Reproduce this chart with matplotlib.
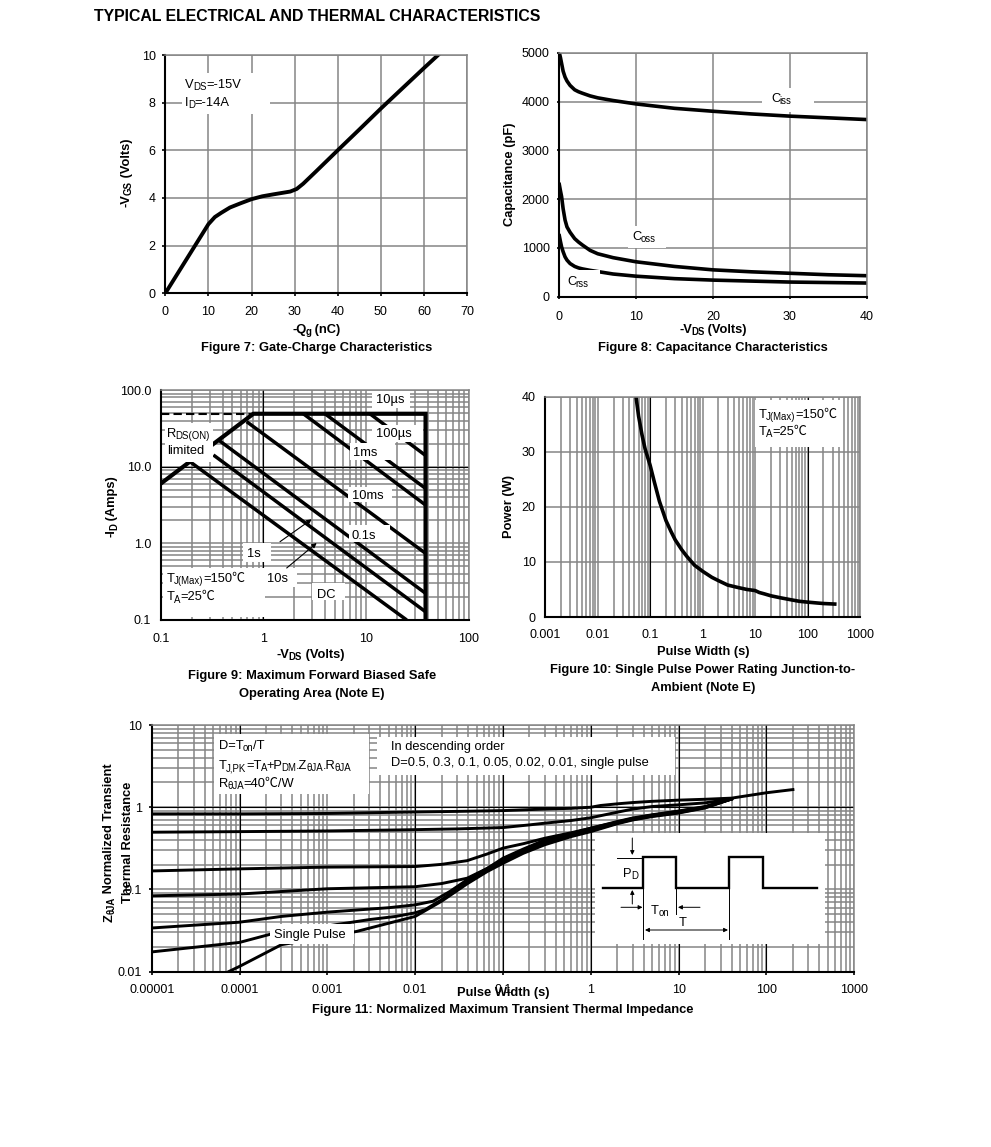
import matplotlib
matplotlib.use("Agg")
import matplotlib.pyplot as plt
from matplotlib.patches import Rectangle
from matplotlib.ticker import LogLocator, NullFormatter

plt.rcParams["font.family"] = ["Liberation Sans", "Noto Sans CJK SC", "DejaVu Sans"]

W, H = 991, 1147
GRAY = "#858585"

# figure 7
qg = [0, 5, 10, 11.5, 13, 15, 17.5, 20, 22.5, 25, 29, 30.5, 32, 35, 40, 45, 50, 55, 60, 63.3]
vgs = [0, 1.45, 2.9, 3.2, 3.38, 3.6, 3.78, 3.95, 4.07, 4.15, 4.27, 4.38, 4.6, 5.12, 6.0, 6.87, 7.75, 8.6, 9.45, 10.0]

# figure 8
vds = [0, 0.15, 0.3, 0.5, 0.75, 1, 1.4, 2, 2.5, 3, 4, 5, 7, 10, 15, 20, 25, 30, 35, 40]
ciss = [5000, 4900, 4780, 4620, 4500, 4420, 4330, 4240, 4200, 4170, 4115, 4075, 4020, 3950, 3860, 3800, 3745, 3700, 3665, 3630]
coss = [2300, 2170, 2050, 1800, 1570, 1430, 1320, 1190, 1120, 1060, 950, 880, 800, 715, 620, 550, 510, 480, 450, 430]
crss = [1250, 1130, 1020, 920, 816, 750, 680, 620, 590, 570, 540, 515, 465, 420, 370, 340, 320, 300, 290, 280]

# figure 9, straight limit lines as (x0, y0, x1, y1)
soa_envelope_x = [0.1, 0.8, 38, 38]
soa_envelope_y = [6.0, 49, 49, 0.1]
soa_dash_x = [0.1, 0.8]
soa_dash_y = [49, 49]
soa_lines = [
    (10.9, 49, 38, 14),
    (3.98, 49, 38, 5.2),
    (2.45, 49, 38, 3.16),
    (0.688, 38.6, 38, 0.74),
    (0.365, 22.3, 38, 0.223),
    (0.326, 14.2, 38, 0.128),
    (0.193, 11.6, 24.9, 0.1),
]

# figure 10
pulse_w = [0.0536, 0.06, 0.07, 0.08, 0.1, 0.12, 0.15, 0.2, 0.25, 0.3, 0.4, 0.5, 0.7, 1, 1.5, 2, 3, 5, 7, 10,
           12, 15, 20, 30, 50, 70, 100, 150, 200, 330]
power = [40, 36.5, 33, 30.5, 27.5, 24.5, 21, 17.5, 15.5, 14, 12.2, 11, 9.4, 8.3, 7.2, 6.6, 5.8, 5.3, 5, 4.8,
         4.45, 4.2, 3.85, 3.5, 3.1, 2.85, 2.7, 2.55, 2.45, 2.35]

# figure 11
t_d05 = [1e-5, 1e-4, 1e-3, 0.0068, 0.03, 0.1, 0.3, 0.6, 1, 1.29, 2, 3, 5, 10, 20, 40, 100, 200]
z_d05 = [0.83, 0.83, 0.84, 0.87, 0.89, 0.91, 0.95, 0.97, 1.0, 1.05, 1.1, 1.14, 1.18, 1.22, 1.25, 1.29, 1.5, 1.64]
t_d03 = [1e-5, 1e-4, 1e-3, 0.0068, 0.03, 0.1, 0.2, 0.3, 0.6, 1, 2, 3, 5, 10, 20, 40]
z_d03 = [0.497, 0.505, 0.515, 0.53, 0.545, 0.566, 0.61, 0.64, 0.69, 0.745, 0.87, 0.95, 1.02, 1.07, 1.13, 1.26]
t_d01 = [1e-5, 1e-4, 1e-3, 0.005, 0.01, 0.02, 0.039, 0.066, 0.1, 0.17, 0.3, 0.6, 1, 2, 3, 5, 10, 20, 40]
z_d01 = [0.168, 0.178, 0.187, 0.189, 0.19, 0.202, 0.224, 0.27, 0.318, 0.36, 0.42, 0.49, 0.556, 0.67, 0.74, 0.81, 0.9, 1.02, 1.26]
t_d005 = [1e-5, 1e-4, 1e-3, 0.01, 0.02, 0.039, 0.066, 0.1, 0.17, 0.3, 0.6, 1, 2, 3, 5, 10, 20, 40]
z_d005 = [0.0837, 0.088, 0.102, 0.108, 0.118, 0.137, 0.18, 0.24, 0.31, 0.40, 0.48, 0.556, 0.66, 0.73, 0.8, 0.89, 1.01, 1.26]
t_d002 = [1e-5, 1e-4, 3e-4, 1e-3, 0.005, 0.01, 0.016, 0.025, 0.039, 0.066, 0.1, 0.17, 0.3, 0.6, 1, 2, 3, 5, 10, 20, 40]
z_d002 = [0.034, 0.04, 0.047, 0.053, 0.06, 0.065, 0.072, 0.095, 0.131, 0.18, 0.23, 0.30, 0.38, 0.46, 0.53, 0.65, 0.72, 0.79, 0.87, 1.0, 1.26]
t_d001 = [1e-5, 1e-4, 3e-4, 1e-3, 0.003, 0.006, 0.01, 0.013, 0.02, 0.039, 0.066, 0.1, 0.17, 0.3, 0.6, 1, 2, 3, 5, 10, 20, 40]
z_d001 = [0.0174, 0.0227, 0.031, 0.036, 0.043, 0.047, 0.052, 0.057, 0.075, 0.125, 0.175, 0.22, 0.29, 0.365, 0.45, 0.52, 0.64, 0.71, 0.78, 0.86, 0.99, 1.26]
t_single = [7.5e-5, 1e-4, 3e-4, 1e-3, 2.16e-3, 0.01, 0.02, 0.039, 0.066, 0.1, 0.17, 0.3, 0.6, 1, 2, 3, 5, 10, 20, 40]
z_single = [0.01, 0.0116, 0.0213, 0.0265, 0.0309, 0.047, 0.072, 0.117, 0.165, 0.208, 0.275, 0.35, 0.44, 0.505, 0.63, 0.70, 0.77, 0.85, 0.98, 1.26]

fig = plt.figure(figsize=(W / 100, H / 100), dpi=100)


def make_axes(x0, y_top, x1, y_bot):
    ax = fig.add_axes([x0 / W, 1 - y_bot / H, (x1 - x0) / W, (y_bot - y_top) / H])
    ax.set_axisbelow(True)
    for s in ["left", "bottom"]:
        ax.spines[s].set_linewidth(1.5)
    for s in ["top", "right"]:
        ax.spines[s].set_linewidth(1.1)
        ax.spines[s].set_color(GRAY)
    return ax


def log_grid(axis):
    axis.set_minor_locator(LogLocator(base=10, subs=range(2, 10), numticks=30))
    axis.set_minor_formatter(NullFormatter())


def finish(ax, xticks, xlabels, yticks, ylabels, tick_len=2.5, xpad=9):
    ax.set_xticks(xticks)
    ax.set_xticklabels(xlabels)
    ax.set_yticks(yticks)
    ax.set_yticklabels(ylabels)
    ax.tick_params(which="major", length=tick_len, width=1.2, labelsize=9)
    ax.tick_params(axis="x", which="major", pad=xpad - tick_len)
    ax.tick_params(axis="y", which="major", pad=6.9 - tick_len)
    ax.tick_params(which="minor", length=0)
    ax.grid(which="both", color=GRAY, linewidth=1.1)


# figure 7
ax7 = make_axes(165.3, 55, 467, 293.3)
ax7.plot(qg, vgs, color="black", linewidth=2.8)
ax7.set_xlim(0, 70)
ax7.set_ylim(0, 10)
finish(ax7, range(0, 71, 10), [str(v) for v in range(0, 71, 10)], range(0, 11, 2), [str(v) for v in range(0, 11, 2)])

# figure 8
ax8 = make_axes(559.3, 52.7, 866.7, 296.7)
for series in (ciss, coss, crss):
    ax8.plot(vds, series, color="black", linewidth=2.6)
ax8.set_xlim(0, 40)
ax8.set_ylim(0, 5000)
finish(ax8, range(0, 41, 10), [str(v) for v in range(0, 41, 10)], range(0, 5001, 1000),
       [str(v) for v in range(0, 5001, 1000)], tick_len=1.5, xpad=10)

# figure 9
ax9 = make_axes(160.7, 390, 468.7, 620)
ax9.set_xscale("log")
ax9.set_yscale("log")
ax9.set_xlim(0.1, 100)
ax9.set_ylim(0.1, 100)
log_grid(ax9.xaxis)
log_grid(ax9.yaxis)
finish(ax9, [0.1, 1, 10, 100], ["0.1", "1", "10", "100"], [0.1, 1, 10, 100], ["0.1", "1.0", "10.0", "100.0"], tick_len=0)
ax9.axvline(1, color="black", linewidth=0.8)
ax9.axhline(10, color="black", linewidth=0.8)
for x0, y0, x1, y1 in soa_lines:
    ax9.plot([x0, x1], [y0, y1], color="black", linewidth=2.5, solid_capstyle="butt")
ax9.plot(soa_envelope_x, soa_envelope_y, color="black", linewidth=3.0, solid_joinstyle="miter")
ax9.plot(soa_dash_x, soa_dash_y, color="black", linewidth=1.5, linestyle=(0, (4, 2)))

# figure 10
ax10 = make_axes(545.3, 396.7, 860, 617)
ax10.set_xscale("log")
ax10.set_xlim(0.001, 1000)
ax10.set_ylim(0, 40)
log_grid(ax10.xaxis)
finish(ax10, [0.001, 0.01, 0.1, 1, 10, 100, 1000], ["0.001", "0.01", "0.1", "1", "10", "100", "1000"],
       range(0, 41, 10), [str(v) for v in range(0, 41, 10)], tick_len=0)
for v in [0.1, 100]:
    ax10.axvline(v, color="black", linewidth=0.8)
ax10.plot(pulse_w, power, color="black", linewidth=2.6)

# figure 11
ax11 = make_axes(151.7, 725, 854.3, 971.7)
ax11.set_xscale("log")
ax11.set_yscale("log")
ax11.set_xlim(1e-5, 1000)
ax11.set_ylim(0.01, 10)
log_grid(ax11.xaxis)
log_grid(ax11.yaxis)
finish(ax11, [1e-5, 1e-4, 1e-3, 0.01, 0.1, 1, 10, 100, 1000],
       ["0.00001", "0.0001", "0.001", "0.01", "0.1", "1", "10", "100", "1000"],
       [0.01, 0.1, 1, 10], ["0.01", "0.1", "1", "10"])
for v in [1e-4, 0.01, 0.1, 1, 10, 100]:
    ax11.axvline(v, color="black", linewidth=0.8)
ax11.axhline(1, color="black", linewidth=0.8)
for t, z in [(t_d05, z_d05), (t_d03, z_d03), (t_d01, z_d01), (t_d005, z_d005),
             (t_d002, z_d002), (t_d001, z_d001), (t_single, z_single)]:
    ax11.plot(t, z, color="black", linewidth=2.1)

# overlay in pixel coordinates for white label boxes and text
ov = fig.add_axes([0, 0, 1, 1])
ov.set_xlim(0, W)
ov.set_ylim(H, 0)
ov.axis("off")
ov.patch.set_alpha(0)
renderer = fig.canvas.get_renderer()


def box(x0, y0, x1, y1):
    ov.add_patch(Rectangle((x0, y0), x1 - x0, y1 - y0, facecolor="white", edgecolor="none", zorder=2))


def rich(x, y, parts, size=9.25, weight="normal", rotation=0, center=False):
    # parts are plain strings, or ("sub", text) for subscripts; y is the middle of the caps
    items = []
    total = 0
    for p in parts:
        sub = isinstance(p, tuple)
        s = p[1] if sub else p
        t = ov.text(0, 0, s, fontsize=size * 0.75 if sub else size, fontweight=weight, rotation=rotation,
                    rotation_mode="anchor", ha="left", va="baseline", zorder=4, color="black")
        ext = t.get_window_extent(renderer)
        adv = (ext.height if rotation else ext.width) - 0.6
        items.append((t, sub, adv))
        total += adv
    shift = size * 0.5
    if rotation:
        px = x + shift
        py = y + total / 2 if center else y
        for t, sub, adv in items:
            t.set_position((px + (2.5 if sub else 0), py))
            py -= adv
    else:
        px = x - total / 2 if center else x
        py = y + shift
        for t, sub, adv in items:
            t.set_position((px, py + (2.5 if sub else 0)))
            px += adv


def bold_center(x, y, s, size=9.25):
    rich(x, y, [s], size=size, weight="bold", center=True)


rich(94, 15.5, ["TYPICAL ELECTRICAL AND THERMAL CHARACTERISTICS"], size=11.47, weight="bold")

# figure 7 labels
box(182, 73, 270, 114)
rich(185, 83, ["V", ("sub", "DS"), "=-15V"])
rich(185, 101, ["I", ("sub", "D"), "=-14A"])
rich(316, 328, ["-Q", ("sub", "g"), " (nC)"], weight="bold", center=True)
rich(125, 173, ["-V", ("sub", "GS"), " (Volts)"], weight="bold", rotation=90, center=True)
bold_center(316, 346, "Figure 7: Gate-Charge Characteristics")

# figure 8 labels
box(762, 88, 814, 112)
rich(771, 97, ["C", ("sub", "iss")])
box(628, 226, 666, 248)
rich(632, 235, ["C", ("sub", "oss")])
box(565, 270, 599.5, 290)
rich(567, 280, ["C", ("sub", "rss")])
rich(712.7, 328, ["-V", ("sub", "DS"), " (Volts)"], weight="bold", center=True)
rich(508, 175, ["Capacitance (pF)"], weight="bold", rotation=90, center=True)
bold_center(712.7, 346, "Figure 8: Capacitance Characteristics")

# figure 9 labels
box(372, 391, 410, 408)
rich(376, 398, ["10µs"])
box(372, 425, 423, 442)
rich(376, 432, ["100µs"])
box(350, 443, 395, 460)
rich(353, 451.5, ["1ms"])
box(348, 487, 392, 502)
rich(352, 494.5, ["10ms"])
box(349, 525, 390, 542)
rich(352, 534.5, ["0.1s"])
box(243, 543, 271, 562)
rich(247, 552.5, ["1s"])
box(265, 568, 297, 587)
rich(267, 577, ["10s"])
box(312, 583, 345, 600)
rich(317, 593, ["DC"])
box(165, 423, 213, 462)
rich(167, 432, ["R", ("sub", "DS(ON)")])
rich(167, 449, ["limited"])
box(163, 568, 265, 617)
rich(167, 577, ["T", ("sub", "J(Max)"), "=150℃"])
rich(167, 595.5, ["T", ("sub", "A"), "=25℃"])
rich(310, 653, ["-V", ("sub", "DS"), " (Volts)"], weight="bold", center=True)
rich(110, 507, ["-I", ("sub", "D"), " (Amps)"], weight="bold", rotation=90, center=True)
bold_center(311.7, 674, "Figure 9: Maximum Forward Biased Safe")
bold_center(311.7, 692, "Operating Area (Note E)")
for start, end in [((280, 541.7), (311.7, 519.3)), ((286.7, 568), (316.7, 543))]:
    ov.annotate("", xy=end, xytext=start, zorder=3,
                arrowprops=dict(arrowstyle="-|>", color="black", lw=0.8, mutation_scale=7, shrinkA=0, shrinkB=0))

# figure 10 labels
box(755, 400, 843, 447)
rich(759, 413, ["T", ("sub", "J(Max)"), "=150℃"])
rich(759, 430, ["T", ("sub", "A"), "=25℃"])
bold_center(702.7, 650.5, "Pulse Width (s)")
rich(507, 507, ["Power (W)"], weight="bold", rotation=90, center=True)
bold_center(702.7, 668, "Figure 10: Single Pulse Power Rating Junction-to-")
bold_center(702.7, 686, "Ambient (Note E)")

# figure 11 labels
box(214, 734, 369, 794)
rich(219, 744, ["D=T", ("sub", "on"), "/T"])
rich(219, 764, ["T", ("sub", "J,PK"), "=T", ("sub", "A"), "+P", ("sub", "DM"), ".Z", ("sub", "θJA"), ".R", ("sub", "θJA")])
rich(219, 782, ["R", ("sub", "θJA"), "=40℃/W"])
box(377, 737, 675, 775)
rich(391, 745.5, ["In descending order"])
rich(391, 761.5, ["D=0.5, 0.3, 0.1, 0.05, 0.02, 0.01, single pulse"])
box(270, 924, 354, 944)
rich(274, 933.5, ["Single Pulse"])
rich(107.7, 843, ["Z", ("sub", "θJA"), " Normalized Transient"], weight="bold", rotation=90, center=True)
rich(126.7, 843, ["Thermal Resistance"], weight="bold", rotation=90, center=True)
bold_center(503, 991.5, "Pulse Width (s)")
bold_center(502.7, 1008, "Figure 11: Normalized Maximum Transient Thermal Impedance")

# duty cycle sketch
box(595, 833, 825, 944)
ov.plot([603, 643.3, 643.3, 675.7, 675.7, 729.3, 729.3, 762.7, 762.7, 816.7],
        [888.3, 888.3, 857.3, 857.3, 888.3, 888.3, 857.3, 857.3, 888.3, 888.3],
        color="black", linewidth=1.7, zorder=3, solid_joinstyle="miter")
ov.plot([617, 643.3], [857.7, 857.7], color="black", linewidth=0.7, zorder=3)
ov.plot([643.3, 643.3], [888.3, 939], color="black", linewidth=0.7, zorder=3)
ov.plot([675.7, 675.7], [888.3, 914], color="black", linewidth=0.7, zorder=3)
ov.plot([728.7, 728.7], [888.3, 939], color="black", linewidth=0.7, zorder=3)
for start, end, style in [((632.3, 838), (632.3, 855), "-|>"), ((632.3, 904), (632.3, 890), "-|>"),
                          ((621, 907.3), (642.5, 907.3), "-|>"), ((700, 907.3), (678, 907.3), "-|>"),
                          ((645, 930), (728, 930), "<|-|>")]:
    ov.annotate("", xy=end, xytext=start, zorder=3,
                arrowprops=dict(arrowstyle=style, color="black", lw=0.7, mutation_scale=6, shrinkA=0, shrinkB=0))
rich(623, 872, ["P", ("sub", "D")])
rich(651, 909, ["T", ("sub", "on")])
rich(679, 921, ["T"])

fig.savefig("out.png", dpi=100, facecolor="white")
plt.close(fig)
